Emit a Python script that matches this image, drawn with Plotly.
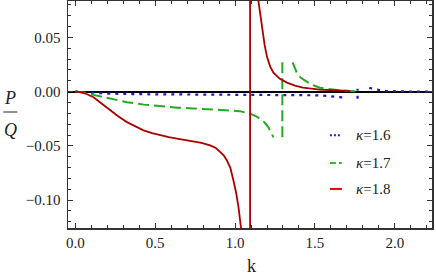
import plotly.graph_objects as go

# ---- data ----
# kappa = 1.8 (dark red, solid)
k18_a = [0.0, 0.03, 0.07, 0.114, 0.16, 0.219, 0.27, 0.323, 0.375, 0.427, 0.48, 0.531, 0.585,
         0.636, 0.69, 0.739, 0.79, 0.844, 0.88, 0.906, 0.93, 0.948, 0.97, 0.989, 1.005,
         1.021, 1.036, 1.045]
v18_a = [0.0, -0.0005, -0.0022, -0.0052, -0.0105, -0.0174, -0.023, -0.0281, -0.032, -0.0357,
         -0.0382, -0.0403, -0.042, -0.0433, -0.0446, -0.0458, -0.0472, -0.0495, -0.052,
         -0.0556, -0.059, -0.0632, -0.070, -0.0815, -0.092, -0.106, -0.123, -0.135]
k18_v = [1.094, 1.094]
v18_v = [-0.135, 0.09]
k18_b = [1.14, 1.15, 1.16, 1.17, 1.185, 1.20, 1.22, 1.24, 1.28, 1.325, 1.375, 1.425, 1.48,
         1.53, 1.64, 1.72]
v18_b = [0.09, 0.080, 0.067, 0.057, 0.043, 0.032, 0.023, 0.0174, 0.0118, 0.0083, 0.0055,
         0.0037, 0.0026, 0.0018, 0.001, 0.0006]

# kappa = 1.7 (green, dashed)
k17_a = [0.0, 0.05, 0.114, 0.2, 0.323, 0.43, 0.531, 0.64, 0.739, 0.85, 0.906, 0.96, 1.03,
         1.094, 1.13, 1.156, 1.185, 1.208, 1.225, 1.24]
v17_a = [0.0, -0.0008, -0.003, -0.006, -0.0098, -0.012, -0.0135, -0.0148, -0.0155, -0.0163,
         -0.0167, -0.0171, -0.018, -0.0204, -0.0225, -0.025, -0.0285, -0.0327, -0.037, -0.042]
k17_v = [1.296, 1.296]
v17_v = [-0.042, 0.027]
k17_b = [1.36, 1.386, 1.41, 1.427, 1.45, 1.47, 1.49, 1.53, 1.573, 1.61, 1.66, 1.72, 1.78]
v17_b = [0.027, 0.0177, 0.013, 0.0112, 0.0088, 0.0072, 0.0058, 0.0036, 0.0026, 0.0018,
         0.0011, 0.0006, 0.0003]

# kappa = 1.6 (blue, dotted)
k16_a = [0.0, 0.1, 0.2, 0.4, 0.8, 1.2, 1.43, 1.5, 1.55, 1.6, 1.656, 1.69]
v16_a = [0.0, -0.001, -0.0018, -0.0024, -0.0026, -0.0027, -0.0030, -0.0034, -0.0037,
         -0.0043, -0.0052, -0.0056]
k16_v = [1.767, 1.767]
v16_v = [-0.0065, 0.0027]
k16_b = [1.84, 1.87, 1.9, 1.95, 2.0, 2.1, 2.24]
v16_b = [0.0034, 0.0024, 0.0016, 0.0005, 0.0002, 0.0, 0.0]

x_ticks = [0.0, 0.5, 1.0, 1.5, 2.0]
x_tick_labels = ["0.0", "0.5", "1.0", "1.5", "2.0"]
y_ticks = [0.05, 0.0, -0.05, -0.10]
y_tick_labels = ["0.05", "0.00", "\u22120.05", "\u22120.10"]

legend_labels = ["<i>κ</i>=1.6", "<i>κ</i>=1.7", "<i>κ</i>=1.8"]

def join(*parts):
    xs, ys = [], []
    for i, (a, b) in enumerate(parts):
        if i:
            xs.append(None)
            ys.append(None)
        xs += a
        ys += b
    return xs, ys

FONT = "Liberation Serif"
RED, GREEN, BLUE = "#aa0000", "#22aa22", "#1a1acc"

fig = go.Figure()

x, y = join((k16_a, v16_a), (k16_v, v16_v), (k16_b, v16_b))
fig.add_trace(go.Scatter(x=x, y=y, mode="lines", line=dict(color=BLUE, width=2.2, dash="3px,5px"),
                         connectgaps=False, showlegend=False))
x, y = join((k17_a, v17_a), (k17_v, v17_v), (k17_b, v17_b))
fig.add_trace(go.Scatter(x=x, y=y, mode="lines", line=dict(color=GREEN, width=2, dash="11px,5px"),
                         connectgaps=False, showlegend=False))
x, y = join((k18_a, v18_a), (k18_v, v18_v), (k18_b, v18_b))
fig.add_trace(go.Scatter(x=x, y=y, mode="lines", line=dict(color=RED, width=1.8),
                         connectgaps=False, showlegend=False))

axis_common = dict(
    showline=True, linecolor="#333", linewidth=1.5, mirror="ticks",
    ticks="inside", ticklen=5, tickwidth=1, tickcolor="#333",
    showgrid=False, automargin=False,
    tickfont=dict(family=FONT, size=15, color="#222"),
)

fig.update_layout(
    template="none",
    width=436, height=277,
    margin=dict(l=68, r=4, t=1, b=49, autoexpand=False),
    paper_bgcolor="white", plot_bgcolor="white",
    showlegend=False,
    xaxis=dict(range=[-0.046, 2.233], tickvals=x_ticks, ticktext=x_tick_labels,
               zeroline=False,
               minor=dict(dtick=0.1, tick0=0, ticks="inside", ticklen=3, tickcolor="#333"),
               **axis_common),
    yaxis=dict(range=[-0.1257, 0.0835], tickvals=y_ticks, ticktext=y_tick_labels,
               zeroline=True, zerolinecolor="black", zerolinewidth=1.8,
               ticklabelstandoff=3,
               minor=dict(dtick=0.01, tick0=0, ticks="inside", ticklen=3, tickcolor="#333"),
               **axis_common),
)

# custom legend (short line samples, as in the reference)
leg_styles = [dict(color="#2222dd", width=2, dash="2px,2px"),
              dict(color="#33bb33", width=2, dash="6px,3px"),
              dict(color="#ee0000", width=2)]
leg_y = [-0.0403, -0.0659, -0.0897]
for lab, st, yy in zip(legend_labels, leg_styles, leg_y):
    fig.add_shape(type="line", xref="x", yref="y", x0=1.594, x1=1.669, y0=yy, y1=yy, line=st)
    fig.add_annotation(xref="x", yref="y", x=1.745, y=yy, text=lab, showarrow=False,
                       xanchor="left", yanchor="middle",
                       font=dict(family=FONT, size=15, color="#222"))

# axis labels
fig.add_annotation(xref="x", yref="paper", x=1.1, y=-0.166, text="k", showarrow=False,
                   xanchor="center", yanchor="middle", font=dict(family=FONT, size=18, color="#222"))
fig.add_annotation(xref="paper", yref="paper", x=-0.158, y=(228 - 98) / 227, text="<i>P</i>",
                   showarrow=False, xanchor="center", yanchor="middle",
                   font=dict(family=FONT, size=18, color="#222"))
fig.add_annotation(xref="paper", yref="paper", x=-0.158, y=(228 - 130) / 227, text="<i>Q</i>",
                   showarrow=False, xanchor="center", yanchor="middle",
                   font=dict(family=FONT, size=18, color="#222"))
fig.add_shape(type="line", xref="paper", yref="paper", x0=-0.1775, x1=-0.139,
              y0=(228 - 112) / 227, y1=(228 - 112) / 227, line=dict(color="#222", width=1))

fig.write_html("out.html",
               config={"displayModeBar": False, "staticPlot": True},
               post_script="document.body.style.margin='0';document.body.style.overflow='hidden';")
